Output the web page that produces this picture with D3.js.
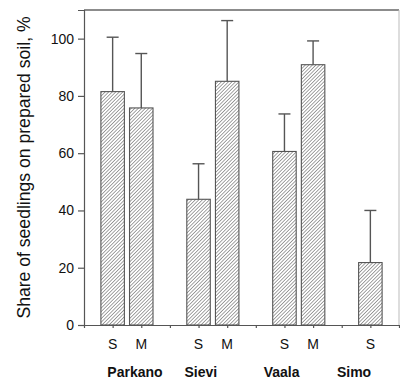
<!DOCTYPE html>
<html>
<head>
<meta charset="utf-8">
<script src="https://cdn.jsdelivr.net/npm/d3@7"></script>
<style>
  body { margin: 0; background: #fff; }
  text { font-family: "Liberation Sans", Arial, sans-serif; }
</style>
</head>
<body>
<script>
// data
var sites = ["Parkano", "Sievi", "Vaala", "Simo"];
var barSite = ["Parkano", "Parkano", "Sievi", "Sievi", "Vaala", "Vaala", "Simo"];
var barType = ["S", "M", "S", "M", "S", "M", "S"];
var barSlot = [1, 2, 4, 5, 7, 8, 10];
var means = [81.5, 75.8, 43.9, 85.1, 60.6, 90.9, 21.8];
var upper = [100.5, 94.8, 56.3, 106.3, 73.7, 99.2, 40.0];
var siteLabelSlot = [1.78, 4.08, 6.9, 9.43];
var betweenSlots = [3, 6, 9];
var yTicks = [0, 20, 40, 60, 80, 100];

var W = 400, H = 381;
var margin = {top: 10, right: 1, bottom: 56, left: 84};
var width = W - margin.left - margin.right;
var height = H - margin.top - margin.bottom;

var svg = d3.select("body").append("svg")
    .attr("width", W)
    .attr("height", H);

// hatch fill
svg.append("defs").append("pattern")
    .attr("id", "hatch")
    .attr("patternUnits", "userSpaceOnUse")
    .attr("width", 2.5)
    .attr("height", 2.5)
    .attr("patternTransform", "rotate(45)")
  .append("line")
    .attr("x1", 0).attr("y1", 0)
    .attr("x2", 0).attr("y2", 2.5)
    .attr("stroke", "#333")
    .attr("stroke-width", 0.9);

var g = svg.append("g")
    .attr("transform", "translate(" + margin.left + "," + margin.top + ")");

var x = d3.scaleLinear().domain([0, 11]).range([0, width]);
var y = d3.scaleLinear().domain([0, 110]).range([height, 0]);
var bw = x(0.82) - x(0);

var bars = barSlot.map(function(s, i) {
  return {slot: s, type: barType[i], site: barSite[i], mean: means[i], up: upper[i]};
});

// frame top and right
g.append("line")
    .attr("x1", 0).attr("x2", width)
    .attr("y1", 0).attr("y2", 0)
    .attr("stroke", "#666").attr("stroke-width", 1.5);
g.append("line")
    .attr("x1", width).attr("x2", width)
    .attr("y1", 0).attr("y2", height)
    .attr("stroke", "#bbb").attr("stroke-width", 1);

// error bars (upper only)
var err = g.selectAll(".err").data(bars).join("g").attr("class", "err")
    .attr("stroke", "#555").attr("stroke-width", 1.4);
err.append("line")
    .attr("x1", d => x(d.slot)).attr("x2", d => x(d.slot))
    .attr("y1", d => y(d.mean)).attr("y2", d => y(d.up));
err.append("line")
    .attr("x1", d => x(d.slot) - 6).attr("x2", d => x(d.slot) + 6)
    .attr("y1", d => y(d.up)).attr("y2", d => y(d.up));

// bars
g.selectAll(".bar").data(bars).join("rect")
    .attr("class", "bar")
    .attr("x", d => x(d.slot) - bw / 2)
    .attr("width", bw)
    .attr("y", d => y(d.mean))
    .attr("height", d => y(0) - y(d.mean))
    .attr("fill", "url(#hatch)")
    .attr("stroke", "#555")
    .attr("stroke-width", 1.1);

// y axis
var yAxis = g.append("g")
    .call(d3.axisLeft(y).tickValues(yTicks).tickSize(6).tickPadding(4));
yAxis.select(".domain").attr("stroke", "#555").attr("stroke-width", 1.2);
yAxis.selectAll(".tick line").attr("stroke", "#555").attr("stroke-width", 1.2);
yAxis.selectAll("text")
    .style("font-size", "14px")
    .attr("fill", "#111");

// x axis
var xTickVals = barSlot.concat(betweenSlots);
var xAxis = g.append("g")
    .attr("transform", "translate(0," + height + ")")
    .call(d3.axisBottom(x).tickValues(xTickVals).tickSize(3).tickFormat(""));
xAxis.select(".domain").attr("stroke", "#555").attr("stroke-width", 1.2);
xAxis.selectAll(".tick line").attr("stroke", "#555").attr("stroke-width", 1.2);

// S / M labels
g.selectAll(".type").data(bars).join("text")
    .attr("class", "type")
    .attr("x", d => x(d.slot))
    .attr("y", height + 24)
    .attr("text-anchor", "middle")
    .style("font-size", "14px")
    .attr("fill", "#111")
    .text(d => d.type);

// site labels
g.selectAll(".site").data(sites).join("text")
    .attr("class", "site")
    .attr("x", (d, i) => x(siteLabelSlot[i]))
    .attr("y", height + 52)
    .attr("text-anchor", "middle")
    .style("font-size", "14px")
    .style("font-weight", "bold")
    .attr("fill", "#111")
    .text(d => d);

// y title
svg.append("text")
    .attr("transform", "translate(30," + (margin.top + height / 2) + ") rotate(-90)")
    .attr("text-anchor", "middle")
    .style("font-size", "17.6px")
    .attr("fill", "#111")
    .text("Share of seedlings on prepared soil, %");
</script>
</body>
</html>
